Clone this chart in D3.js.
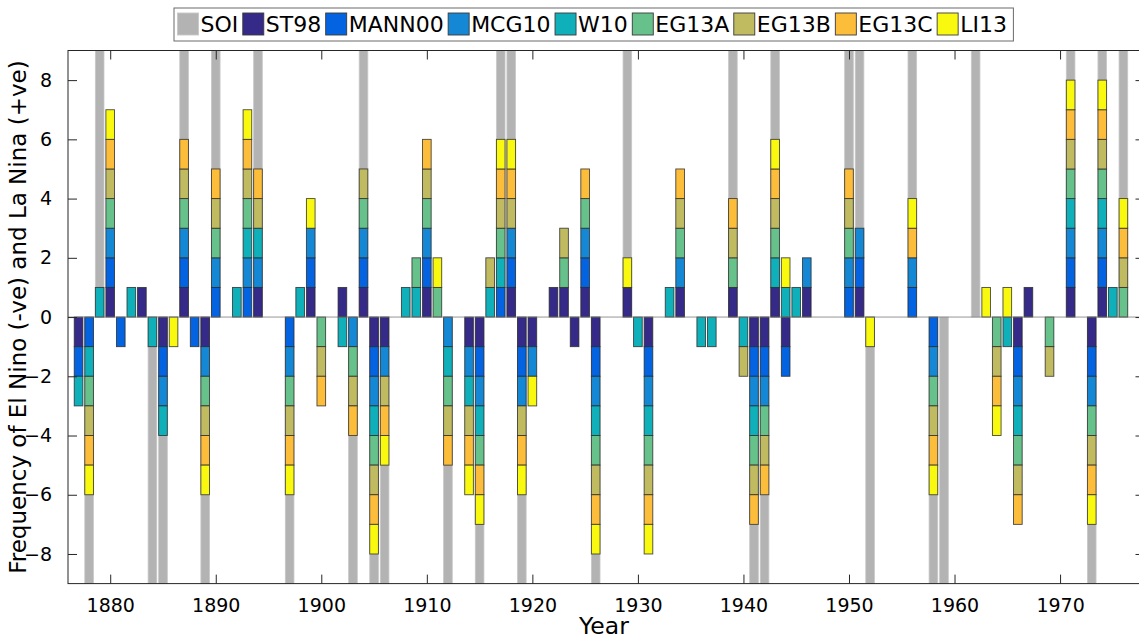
<!DOCTYPE html>
<meta charset="utf-8">
<style>
body { margin: 0; background: #fff; }
text { font-family: "DejaVu Sans", sans-serif; fill: #000; }
.axis text { font-size: 19px; }
.axis line { stroke: #262626; }
</style>
<body>
<script src="https://d3js.org/d3.v7.min.js"></script>
<script>

// years classified as La Nina (+1) and El Nino (-1) by each source
var soiLa = [1879,1887,1890,1894,1904,1917,1918,1929,1939,1943,1950,1951,1956,1962,1971,1974,1976];
var soiEl = [1878,1884,1885,1889,1897,1903,1905,1906,1912,1915,1919,1926,1941,1942,1952,1958,1959,1973];

var st98La = [1880,1883,1887,1894,1899,1902,1904,1910,1918,1922,1923,1925,1929,1934,1939,1943,1946,1951,1967,1971,1974];
var st98El = [1877,1885,1889,1905,1906,1914,1915,1919,1920,1924,1926,1931,1941,1942,1944,1966,1973];

var mann00La = [1880,1887,1890,1893,1899,1904,1910,1917,1918,1925,1950,1951,1956,1971,1974];
var mann00El = [1877,1878,1881,1885,1888,1897,1905,1915,1919,1926,1931,1941,1942,1944,1958,1966,1973];

var mcg10La = [1880,1887,1890,1893,1894,1899,1904,1910,1918,1925,1934,1946,1950,1951,1956,1971,1974];
var mcg10El = [1885,1889,1897,1903,1905,1906,1912,1914,1915,1919,1920,1926,1931,1941,1942,1958,1966,1973];

var w10La = [1879,1882,1892,1893,1894,1898,1908,1909,1916,1917,1933,1943,1944,1945,1971,1974,1975];
var w10El = [1877,1878,1884,1885,1902,1905,1912,1914,1915,1926,1930,1931,1936,1937,1940,1941,1965,1966];

var eg13aLa = [1880,1887,1890,1893,1904,1909,1910,1911,1917,1923,1925,1934,1939,1943,1950,1971,1974,1976];
var eg13aEl = [1878,1889,1897,1900,1903,1905,1912,1915,1926,1931,1941,1942,1958,1964,1966,1969,1973];

var eg13bLa = [1880,1887,1890,1893,1894,1904,1910,1916,1917,1918,1923,1934,1939,1943,1950,1971,1974,1976];
var eg13bEl = [1878,1889,1897,1900,1903,1905,1906,1912,1914,1919,1926,1931,1940,1941,1942,1958,1964,1966,1969,1973];

var eg13cLa = [1880,1887,1890,1893,1894,1910,1917,1918,1925,1934,1939,1943,1950,1956,1971,1974,1976];
var eg13cEl = [1878,1889,1897,1900,1903,1905,1906,1912,1914,1915,1919,1926,1931,1941,1942,1958,1964,1966,1973];

var li13La = [1880,1893,1899,1911,1917,1918,1929,1943,1944,1956,1963,1965,1971,1974,1976];
var li13El = [1878,1886,1889,1897,1905,1906,1914,1915,1919,1920,1926,1931,1952,1958,1964,1973];

var names = ["ST98","MANN00","MCG10","W10","EG13A","EG13B","EG13C","LI13"];
var laLists = [st98La, mann00La, mcg10La, w10La, eg13aLa, eg13bLa, eg13cLa, li13La];
var elLists = [st98El, mann00El, mcg10El, w10El, eg13aEl, eg13bEl, eg13cEl, li13El];
var colors = ["#352a87","#0363e1","#1488d4","#10b0ba","#66c18a","#c0bb60","#fcbd3b","#f8f90f"];
var soiColor = "#b3b3b3";

var yTicks = [-8,-6,-4,-2,0,2,4,6,8];
var xTicks = [1880,1890,1900,1910,1920,1930,1940,1950,1960,1970];

var margin = {top: 50.5, left: 68},
    width = 1144.5 - margin.left,
    height = 583.6 - margin.top;

var svgRoot = d3.select("body").append("svg")
    .attr("width", 1139)
    .attr("height", 640);

var svg = svgRoot.append("g")
    .attr("transform", "translate(" + margin.left + "," + margin.top + ")");

var x = d3.scaleLinear().domain([1876, 1978]).range([0, width]);
var y = d3.scaleLinear().domain([-9, 9]).range([height, 0]);
var bw = x(1876.82) - x(1876);

// SOI bars (full height)
var soi = soiLa.map(function(d) { return {year: d, v: 9}; })
    .concat(soiEl.map(function(d) { return {year: d, v: -9}; }));

svg.selectAll(".soi")
    .data(soi)
  .enter().append("rect")
    .attr("class", "soi")
    .attr("x", function(d) { return x(d.year) - bw / 2; })
    .attr("width", bw)
    .attr("y", function(d) { return y(Math.max(0, d.v)); })
    .attr("height", function(d) { return Math.abs(y(d.v) - y(0)); })
    .style("fill", soiColor)
    .style("stroke", "#c8c8c8")
    .style("stroke-width", 0.8);

// stacked reconstruction bars
var cells = [];
for (var yr = 1876; yr <= 1977; yr++) {
  var pos = 0, neg = 0;
  names.forEach(function(n, i) {
    if (laLists[i].indexOf(yr) >= 0) { cells.push({year: yr, y0: pos, y1: pos + 1, c: colors[i]}); pos += 1; }
    if (elLists[i].indexOf(yr) >= 0) { cells.push({year: yr, y0: neg - 1, y1: neg, c: colors[i]}); neg -= 1; }
  });
}

svg.selectAll(".cell")
    .data(cells)
  .enter().append("rect")
    .attr("class", "cell")
    .attr("x", function(d) { return x(d.year) - bw / 2; })
    .attr("width", bw)
    .attr("y", function(d) { return y(d.y1); })
    .attr("height", function(d) { return y(d.y0) - y(d.y1); })
    .style("fill", function(d) { return d.c; })
    .style("stroke", "#2a2a2a")
    .style("stroke-width", 0.9)
    .style("stroke-opacity", 0.85);

// zero line
svg.append("line")
    .attr("x1", 0).attr("x2", width)
    .attr("y1", y(0)).attr("y2", y(0))
    .style("stroke", "#7a7a7a")
    .style("stroke-width", 0.8);

// axes with inward ticks on all four sides
svg.append("g")
    .attr("class", "axis")
    .attr("transform", "translate(0," + height + ")")
    .call(d3.axisBottom(x).tickValues(xTicks).tickFormat(d3.format("d")).tickSizeInner(-9).tickSizeOuter(0).tickPadding(15))
    .call(function(g) { g.select(".domain").remove(); });

svg.append("g")
    .attr("class", "axis")
    .call(d3.axisTop(x).tickValues(xTicks).tickFormat("").tickSizeInner(-9).tickSizeOuter(0))
    .call(function(g) { g.select(".domain").remove(); });

svg.append("g")
    .attr("class", "axis")
    .call(d3.axisLeft(y).tickValues(yTicks).tickSizeInner(-9).tickSizeOuter(0).tickPadding(16))
    .call(function(g) { g.select(".domain").remove(); });

svg.append("g")
    .attr("class", "axis")
    .attr("transform", "translate(" + width + ",0)")
    .call(d3.axisRight(y).tickValues(yTicks).tickFormat("").tickSizeInner(-9).tickSizeOuter(0))
    .call(function(g) { g.select(".domain").remove(); });

svg.append("rect")
    .attr("width", width)
    .attr("height", height)
    .style("fill", "none")
    .style("stroke", "#262626")
    .style("stroke-width", 1);

// axis titles
svg.append("text")
    .attr("x", 604 - margin.left)
    .attr("y", height + 50)
    .style("text-anchor", "middle")
    .style("font-size", "23.5px")
    .text("Year");

svgRoot.append("text")
    .attr("transform", "translate(26," + (margin.top + height / 2) + ") rotate(-90)")
    .style("text-anchor", "middle")
    .style("font-size", "23px")
    .text("Frequency of El Nino (-ve) and La Nina (+ve)");

// legend
var legend = svgRoot.append("g");
var legendBox = legend.append("rect")
    .attr("x", 174).attr("y", 8)
    .attr("height", 33)
    .style("fill", "#fff")
    .style("stroke", "#6a6a6a")
    .style("stroke-width", 1);

var lx = 177.5;
var entries = [{name: "SOI", c: soiColor}].concat(names.map(function(n, i) { return {name: n, c: colors[i]}; }));
entries.forEach(function(e) {
  legend.append("rect")
      .attr("x", lx).attr("y", 13)
      .attr("width", 21).attr("height", 22)
      .style("fill", e.c)
      .style("stroke", e.name == "SOI" ? "#c8c8c8" : "#3a3a3a")
      .style("stroke-width", 0.9);
  var t = legend.append("text")
      .attr("x", lx + 23)
      .attr("y", 32)
      .style("font-size", "22px")
      .text(e.name);
  lx += 23 + t.node().getComputedTextLength() + 4.5;
});
legendBox.attr("width", lx - 174 + 2);

</script>
</body>
